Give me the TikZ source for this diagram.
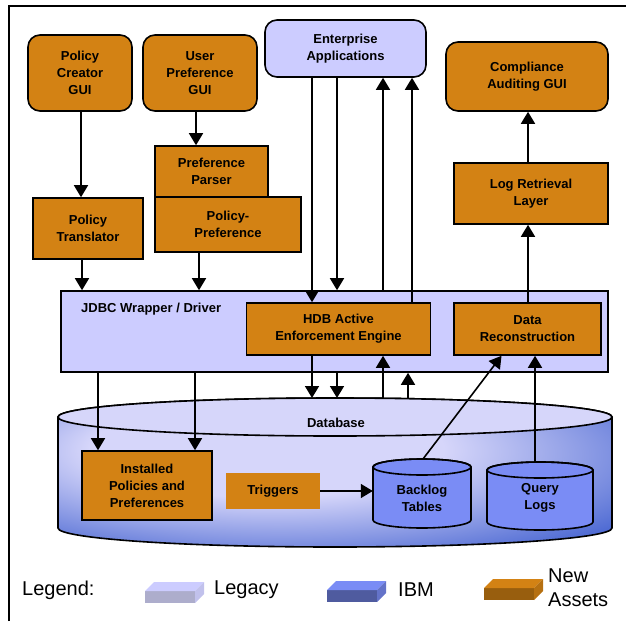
\documentclass[tikz,border=0pt]{standalone}
\usepackage{fontspec}
\setmainfont{Liberation Sans}
\usetikzlibrary{arrows.meta}

\definecolor{assetorange}{RGB}{211,130,20}
\definecolor{legacy}{RGB}{204,204,255}
\definecolor{ibmblue}{RGB}{122,140,245}
\definecolor{dblight}{RGB}{214,214,250}
\definecolor{dbblue}{RGB}{60,92,206}

\pgfdeclareradialshading{dbshade}{\pgfpoint{-8bp}{10bp}}{color(0bp)=(dblight); color(16bp)=(dblight); color(40bp)=(dbblue); color(70bp)=(dbblue)}

% legend icon: x, y (top of front face), front, top, side
\newcommand{\legendbox}[5]{%
  \fill[#3] (#1,#2) rectangle ++(50,12);
  \fill[#4] (#1,#2) -- ++(9,-9) -- ++(50,0) -- ++(-9,9) -- cycle;
  \fill[#5] (#1,#2) ++(50,0) -- ++(9,-9) -- ++(0,12) -- ++(-9,9) -- cycle;
}

\begin{document}
\begin{tikzpicture}[x=1pt,y=-1pt,
    every node/.style={font=\fontsize{13}{17}\selectfont\bfseries, align=center, inner sep=0pt},
    newbox/.style={draw, line width=1.6, fill=assetorange},
    oldbox/.style={draw, line width=1.6, fill=legacy},
    legend/.style={font=\fontsize{20}{24}\selectfont},
    arr/.style={line width=1.6, -{Triangle[length=12pt,width=14pt]}}]
  \useasboundingbox (0,0) rectangle (626,621);
  \draw[line width=1.6] (9,621) -- (9,6) -- (626,6);

  % database
  \shadedraw[shading=dbshade, line width=1.6] (58,417) -- (58,528)
    arc[start angle=180, end angle=360, x radius=277pt, y radius=19pt] -- (612,417)
    arc[start angle=0, end angle=180, x radius=277pt, y radius=19pt] -- cycle;
  \filldraw[fill=dblight, line width=1.6] (335,417) ellipse[x radius=277pt, y radius=19pt];
  \coordinate (dbtop) at (335,398);
  \node (db) at (336,423) {Database};

  \filldraw[fill=ibmblue, line width=1.6] (373,467) -- (373,520)
    arc[start angle=180, end angle=360, x radius=49pt, y radius=8pt] -- (471,467)
    arc[start angle=0, end angle=180, x radius=49pt, y radius=8pt] -- cycle;
  \draw[line width=1.6] (422,467) ellipse[x radius=49pt, y radius=8pt];
  \filldraw[fill=ibmblue, line width=1.6] (487,470) -- (487,522)
    arc[start angle=180, end angle=360, x radius=53pt, y radius=8pt] -- (593,470)
    arc[start angle=0, end angle=180, x radius=53pt, y radius=8pt] -- cycle;
  \draw[line width=1.6] (540,470) ellipse[x radius=53pt, y radius=8pt];
  \coordinate (bltop) at (423,459);
  \coordinate (qltop) at (535,462);
  \node[minimum width=98, minimum height=50] (backlog) at (422,498) {Backlog\\Tables};
  \node[minimum width=106, minimum height=50] (querylogs) at (540,498) {Query\\Logs};

  \node[newbox, minimum width=130, minimum height=69] (installed) at (147,485.5) {Installed\\Policies and\\Preferences};
  \node[fill=assetorange, minimum width=94, minimum height=36] (trig) at (273,491) {Triggers};

  % top row
  \node[newbox, rounded corners=12pt, minimum width=104, minimum height=76] (pcgui) at (80,73) {Policy\\Creator\\GUI};
  \node[newbox, rounded corners=12pt, minimum width=114, minimum height=76] (upgui) at (200,73) {User\\Preference\\GUI};
  \node[oldbox, rounded corners=12pt, minimum width=161, minimum height=57] (entapp) at (345.5,48.5) {Enterprise\\Applications};
  \node[newbox, rounded corners=12pt, minimum width=162, minimum height=69] (cagui) at (527,76.5) {Compliance\\Auditing GUI};

  \node[newbox, minimum width=113, minimum height=51] (pparser) at (211.5,171.5) {Preference\\Parser};
  \node[newbox, minimum width=146, minimum height=55] (ppref) at (228,224.5) {Policy-\\Preference};
  \node[newbox, minimum width=110, minimum height=61] (ptrans) at (88,228.5) {Policy\\Translator};
  \node[newbox, minimum width=154, minimum height=61] (logret) at (531,193.5) {Log Retrieval\\Layer};

  % driver layer
  \node[oldbox, minimum width=547, minimum height=81] (jdbc) at (334.5,331.5) {};
  \node[anchor=west] (jdbclabel) at (81,309) {JDBC Wrapper / Driver};
  \node[newbox, minimum width=184, minimum height=52] (hdb) at (338.5,329) {HDB Active\\Enforcement Engine};
  \node[newbox, minimum width=147, minimum height=52] (datarec) at (527.5,329) {Data\\Reconstruction};

  % connectors
  \draw[arr] (81,0 |- pcgui.south) -- (81,0 |- ptrans.north);
  \draw[arr] (196,0 |- upgui.south) -- (196,0 |- pparser.north);
  \draw[arr] (82,0 |- ptrans.south) -- (82,0 |- jdbc.north);
  \draw[arr] (199,0 |- ppref.south) -- (199,0 |- jdbc.north);
  \draw[arr] (312,0 |- entapp.south) -- (312,0 |- hdb.north);
  \draw[arr] (337,0 |- entapp.south) -- (337,0 |- jdbc.north);
  \draw[arr] (383,0 |- jdbc.north) -- (383,0 |- entapp.south);
  \draw[arr] (412,0 |- hdb.north) -- (412,0 |- entapp.south);
  \draw[arr] (312,0 |- hdb.south) -- (312,0 |- dbtop);
  \draw[arr] (337,0 |- jdbc.south) -- (337,0 |- dbtop);
  \draw[arr] (383,0 |- dbtop) -- (383,0 |- hdb.south);
  \draw[arr] (408,0 |- dbtop) -- (408,0 |- jdbc.south);
  \draw[arr] (98,0 |- jdbc.south) -- (98,0 |- installed.north);
  \draw[arr] (195,0 |- jdbc.south) -- (195,0 |- installed.north);
  \draw[arr] (trig.east) -- (trig.east -| backlog.west);
  \draw[arr] (bltop) -- ([xshift=-26pt]datarec.south);
  \draw[arr] (qltop) -- (qltop |- datarec.south);
  \draw[arr] (528,0 |- datarec.north) -- (528,0 |- logret.south);
  \draw[arr] (528,0 |- logret.north) -- (528,0 |- cagui.south);

  % legend
  \node[legend, anchor=west] (legtitle) at (22,590) {Legend:};
  \legendbox{145}{591}{legacy!60!gray}{legacy}{legacy!85!gray}
  \node[legend, anchor=west] (leglegacy) at (214,590) {Legacy};
  \legendbox{327}{590}{ibmblue!65!black}{ibmblue}{ibmblue!82!black}
  \node[legend, anchor=west] (legibm) at (398,590) {IBM};
  \legendbox{484}{588}{assetorange!72!black}{assetorange}{assetorange!86!black}
  \node[legend, anchor=west, align=left] (legnew) at (548,588) {New\\Assets};
\end{tikzpicture}
\end{document}
